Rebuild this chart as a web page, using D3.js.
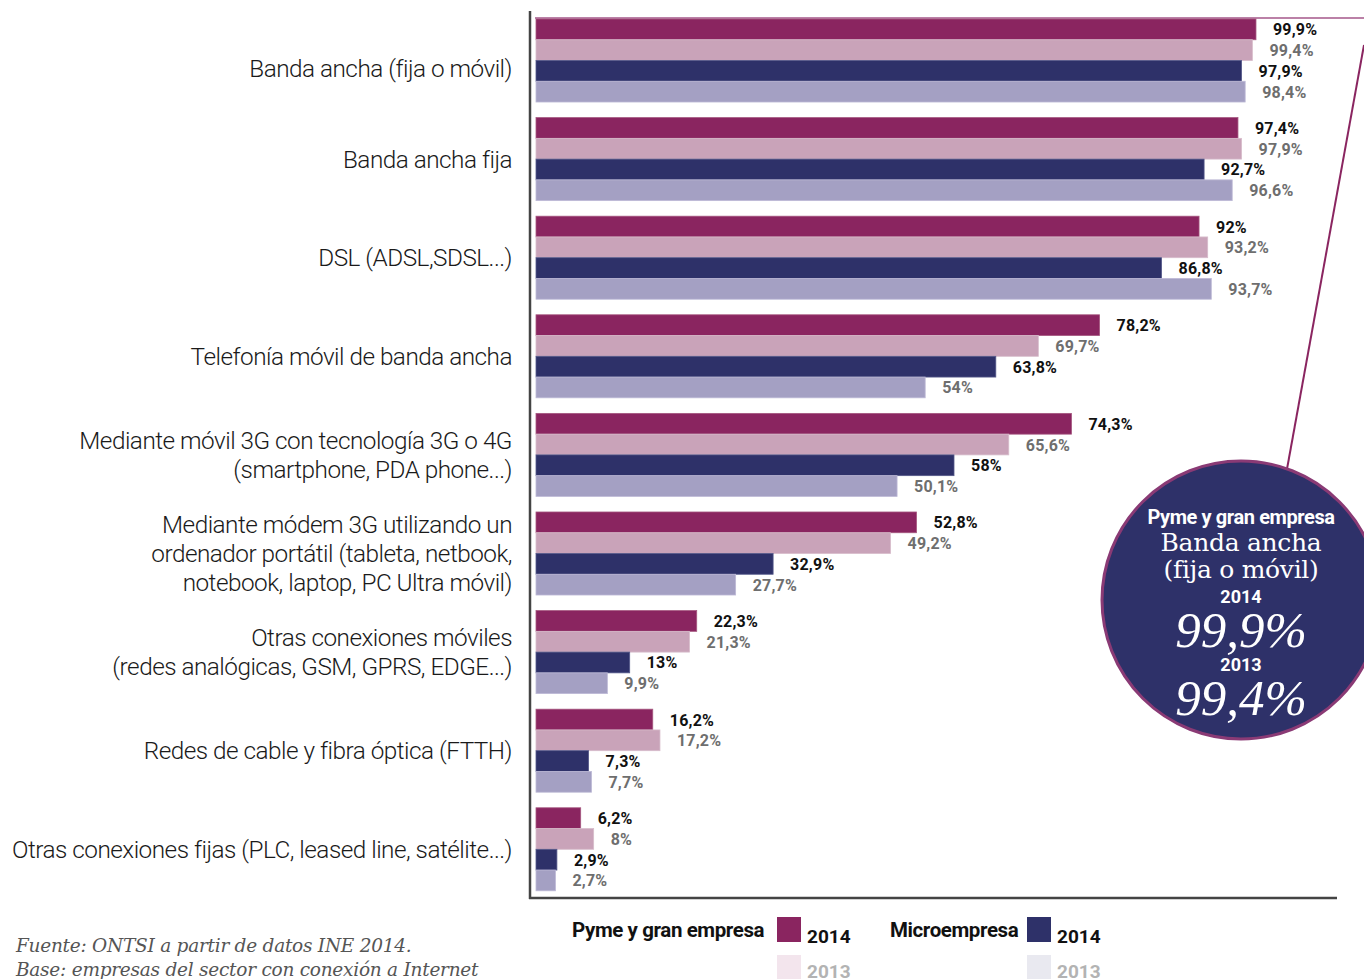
<!DOCTYPE html>
<html>
<head>
<meta charset="utf-8">
<script src="https://cdn.jsdelivr.net/npm/d3@7"></script>
<style>
  html, body { margin: 0; padding: 0; background: #fff; }
  svg { display: block; }
</style>
</head>
<body>
<svg id="chart" width="1364" height="979"></svg>
<script>
// Connection types (each may span several lines)
const categories = [
  ["Banda ancha (fija o móvil)"],
  ["Banda ancha fija"],
  ["DSL (ADSL,SDSL...)"],
  ["Telefonía móvil de banda ancha"],
  ["Mediante móvil 3G con tecnología 3G o 4G", "(smartphone, PDA phone...)"],
  ["Mediante módem 3G utilizando un", "ordenador portátil (tableta, netbook,", "notebook, laptop, PC Ultra móvil)"],
  ["Otras conexiones móviles", "(redes analógicas, GSM, GPRS, EDGE...)"],
  ["Redes de cable y fibra óptica (FTTH)"],
  ["Otras conexiones fijas (PLC, leased line, satélite...)"]
];

// % of companies, per series
const pyme2014  = [99.9, 97.4, 92.0, 78.2, 74.3, 52.8, 22.3, 16.2, 6.2];
const pyme2013  = [99.4, 97.9, 93.2, 69.7, 65.6, 49.2, 21.3, 17.2, 8.0];
const micro2014 = [97.9, 92.7, 86.8, 63.8, 58.0, 32.9, 13.0, 7.3, 2.9];
const micro2013 = [98.4, 96.6, 93.7, 54.0, 50.1, 27.7, 9.9, 7.7, 2.7];

const seriesKeys = ["pyme2014", "pyme2013", "micro2014", "micro2013"];
const seriesValues = { pyme2014, pyme2013, micro2014, micro2013 };
const seriesColors = { pyme2014: "#8a2560", pyme2013: "#c9a3b9", micro2014: "#2e3169", micro2013: "#a4a0c3" };
const seriesStroke = { pyme2014: "#a5577f", pyme2013: "#d7bccb", micro2014: "#55598a", micro2013: "#bdb9d6" };
const labelColors  = { pyme2014: "#111", pyme2013: "#6e6e6e", micro2014: "#111", micro2013: "#6e6e6e" };

const legendGroups = ["Pyme y gran empresa", "Microempresa"];
const legendYears = ["2014", "2013"];

const calloutTitle = "Pyme y  gran empresa";
const calloutName = ["Banda ancha", "(fija o móvil)"];

const sourceLines = [
  "Fuente: ONTSI a partir de datos INE 2014.",
  "Base: empresas del sector con conexión a Internet"
];

const fmt = v => String(v).replace(".", ",") + "%";

const svg = d3.select("#chart");

const x = d3.scaleLinear().domain([0, 100]).range([536, 1256.7]);
const y = d3.scaleBand().domain(d3.range(categories.length)).range([19, 890.8]).paddingInner(0.158).paddingOuter(0);
const ySub = d3.scaleBand().domain(seriesKeys).range([0, y.bandwidth()]);

// Callout frame around the first row and leader line to the circle
svg.append("line")
  .attr("x1", 535).attr("x2", 1364).attr("y1", 18).attr("y2", 18)
  .attr("stroke", "#a4578a").attr("stroke-width", 1.5);
svg.append("line")
  .attr("x1", 1364).attr("y1", 45).attr("x2", 1287).attr("y2", 469)
  .attr("stroke", "#8a2560").attr("stroke-width", 2);

// Axis frame
svg.append("line").attr("x1", 530).attr("x2", 530).attr("y1", 11).attr("y2", 899)
  .attr("stroke", "#444").attr("stroke-width", 2.5);
svg.append("line").attr("x1", 529).attr("x2", 1337).attr("y1", 898).attr("y2", 898)
  .attr("stroke", "#444").attr("stroke-width", 2.5);

// Bars
const groups = svg.append("g").selectAll("g.cat")
  .data(categories)
  .join("g")
  .attr("class", "cat")
  .attr("transform", (d, i) => `translate(0,${y(i)})`);

groups.each(function (d, i) {
  const g = d3.select(this);
  seriesKeys.forEach(k => {
    const v = seriesValues[k][i];
    g.append("rect")
      .attr("x", x(0))
      .attr("y", ySub(k))
      .attr("width", x(v) - x(0))
      .attr("height", ySub.bandwidth())
      .attr("fill", seriesColors[k])
      .attr("stroke", seriesStroke[k])
      .attr("stroke-width", 0.8);
    g.append("text")
      .attr("x", x(v) + 17)
      .attr("y", ySub(k) + ySub.bandwidth() / 2 + 6)
      .attr("font-family", "Roboto, sans-serif")
      .attr("font-weight", 700)
      .attr("font-size", 16)
      .attr("letter-spacing", 0.2)
      .attr("fill", labelColors[k])
      .text(fmt(v));
  });
});

// Category labels
const lineH = 29.5;
groups.append("text")
  .attr("text-anchor", "end")
  .attr("font-family", "Roboto, sans-serif")
  .attr("font-weight", 300)
  .attr("font-size", 24.3)
  .attr("letter-spacing", -0.5)
  .attr("fill", "#1a1a1a")
  .each(function (lines, i) {
    const t = d3.select(this);
    const cy = y.bandwidth() / 2 + (i === 0 ? 8 : 0) - (lines.length - 1) * lineH / 2;
    lines.forEach((ln, j) => {
      t.append("tspan").attr("x", 512).attr("y", cy + j * lineH + 8.5).text(ln);
    });
  });

// Highlight circle
const cx = 1241, cyC = 600, r = 139;
svg.append("circle").attr("cx", cx).attr("cy", cyC).attr("r", r)
  .attr("fill", "#2e3169").attr("stroke", "#8a3a75").attr("stroke-width", 3);

const circleText = [
  { t: calloutTitle, y: 524, fam: "Roboto, sans-serif", w: 700, s: 20, st: "normal", ls: -0.4 },
  { t: calloutName[0], y: 551, fam: "'DejaVu Serif', serif", w: 400, s: 25, st: "normal", ls: -0.3 },
  { t: calloutName[1], y: 578, fam: "'DejaVu Serif', serif", w: 400, s: 25, st: "normal", ls: -0.3 },
  { t: legendYears[0], y: 603, fam: "Roboto, sans-serif", w: 700, s: 18, st: "normal", ls: 0 },
  { t: fmt(pyme2014[0]), y: 647, fam: "'Liberation Serif', serif", w: 400, s: 51, st: "italic", ls: 0 },
  { t: legendYears[1], y: 671, fam: "Roboto, sans-serif", w: 700, s: 18, st: "normal", ls: 0 },
  { t: fmt(pyme2013[0]), y: 715, fam: "'Liberation Serif', serif", w: 400, s: 51, st: "italic", ls: 0 }
];
svg.append("g").selectAll("text").data(circleText).join("text")
  .attr("x", cx).attr("y", d => d.y)
  .attr("text-anchor", "middle")
  .attr("font-family", d => d.fam)
  .attr("font-weight", d => d.w)
  .attr("font-size", d => d.s)
  .attr("font-style", d => d.st)
  .attr("letter-spacing", d => d.ls)
  .attr("fill", "#fff")
  .text(d => d.t);

// Legend
const legend = [
  { name: legendGroups[0], nx: 572, sx: 777, c14: seriesColors.pyme2014, c13: "#f3e5ed" },
  { name: legendGroups[1], nx: 890, sx: 1027, c14: seriesColors.micro2014, c13: "#e9e9f0" }
];
const lg = svg.append("g");
legend.forEach(d => {
  lg.append("text").attr("x", d.nx).attr("y", 937)
    .attr("font-family", "Roboto, sans-serif").attr("font-weight", 700)
    .attr("font-size", 20.5).attr("letter-spacing", -0.4).attr("fill", "#111").text(d.name);
  lg.append("rect").attr("x", d.sx).attr("y", 917).attr("width", 24).attr("height", 25).attr("fill", d.c14);
  lg.append("rect").attr("x", d.sx).attr("y", 955).attr("width", 24).attr("height", 25).attr("fill", d.c13);
  lg.append("text").attr("x", d.sx + 30).attr("y", 943)
    .attr("font-family", "Roboto, sans-serif").attr("font-weight", 700)
    .attr("font-size", 19).attr("fill", "#111").text(legendYears[0]);
  lg.append("text").attr("x", d.sx + 30).attr("y", 978)
    .attr("font-family", "Roboto, sans-serif").attr("font-weight", 700)
    .attr("font-size", 19).attr("fill", "#b3b3b3").text(legendYears[1]);
});

// Source note
svg.append("g").selectAll("text").data(sourceLines).join("text")
  .attr("x", 16).attr("y", (d, i) => 952 + i * 24)
  .attr("font-family", "'DejaVu Serif', serif")
  .attr("font-style", "italic")
  .attr("font-size", 18.5)
  .attr("letter-spacing", -0.25)
  .attr("fill", "#555")
  .text(d => d);
</script>
</body>
</html>
